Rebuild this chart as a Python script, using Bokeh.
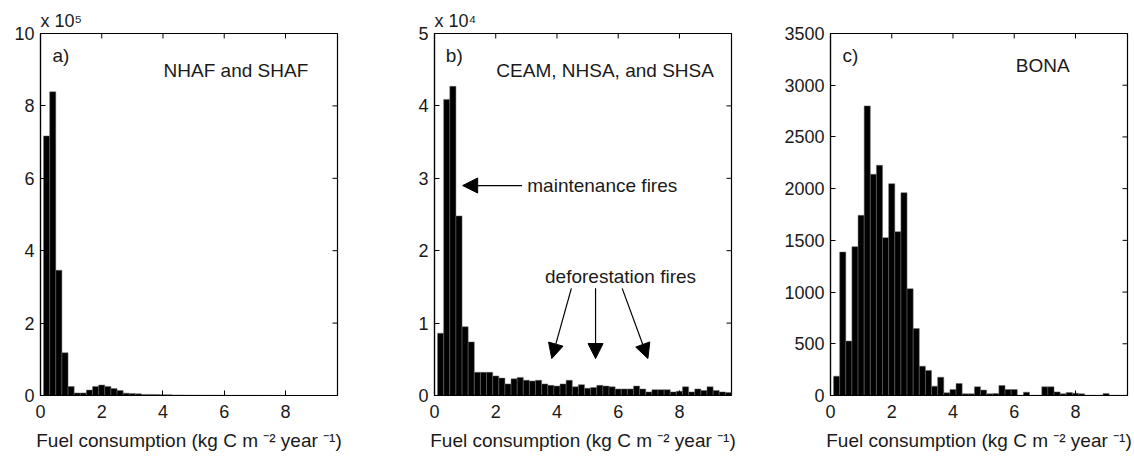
from bokeh.plotting import figure
from bokeh.layouts import row
from bokeh.models import (ColumnDataSource, Range1d, FixedTicker,
                          Label, Arrow, NormalHead)
from bokeh.embed import file_html
from bokeh.resources import INLINE

# ---------------- data ----------------
bin_centers = [0.2, 0.4, 0.6, 0.8, 1.0, 1.2, 1.4, 1.6, 1.8, 2.0, 2.2, 2.4,
               2.6, 2.8, 3.0, 3.2, 3.4, 3.6, 3.8, 4.0, 4.2, 4.4, 4.6, 4.8,
               5.0, 5.2, 5.4, 5.6, 5.8, 6.0, 6.2, 6.4, 6.6, 6.8, 7.0, 7.2,
               7.4, 7.6, 7.8, 8.0, 8.2, 8.4, 8.6, 8.8, 9.0, 9.2, 9.4, 9.6]
bin_width = 0.2

counts_africa = [717000, 839000, 346000, 118000, 25000, 7000, 7000, 15000,
                 25000, 29000, 25000, 19000, 14000, 6500, 5500, 4500,
                 3000, 3000, 2500, 2000, 2000, 1500, 1500, 1200,
                 1000, 1000, 900, 800, 800, 700, 600, 600,
                 500, 500, 500, 400, 400, 400, 300, 300,
                 300, 300, 200, 200, 200, 200, 200, 200]

counts_samerica = [8600, 40900, 42700, 24800, 9500, 7400, 3200, 3200,
                   3200, 2700, 2400, 1600, 2300, 2500, 2100, 2000,
                   2100, 1600, 1400, 1300, 1600, 2100, 1200, 1500,
                   1000, 1100, 1400, 1300, 1200, 900, 900, 900,
                   1300, 900, 500, 800, 800, 800, 500, 600,
                   1200, 500, 900, 700, 1200, 700, 500, 400]

counts_bona = [187, 1387, 526, 1439, 1742, 2800, 2139, 2226,
               1526, 2048, 1584, 1961, 1032, 648, 284, 242,
               90, 177, 26, 58, 116, 16, 16, 84,
               52, 16, 19, 97, 58, 58, 3, 32,
               3, 3, 84, 84, 35, 16, 29, 22,
               16, 3, 3, 3, 19, 3, 3, 3]

x_max = 9.7
x_ticks = [0, 2, 4, 6, 8]
yticks_a = [0, 200000, 400000, 600000, 800000, 1000000]
ylabels_a = ["0", "2", "4", "6", "8", "10"]
yticks_b = [0, 10000, 20000, 30000, 40000, 50000]
ylabels_b = ["0", "1", "2", "3", "4", "5"]
yticks_c = [0, 500, 1000, 1500, 2000, 2500, 3000, 3500]
ylabels_c = ["0", "500", "1000", "1500", "2000", "2500", "3000", "3500"]

xlabel = "Fuel consumption (kg C m \u207b\u00b2 year \u207b\u00b9)"

FONT = "Liberation Sans"
TXT = "#1a1a1a"
FRAME_W, FRAME_H, TICK = 297, 362, 5


def make_panel(counts, ymax, yticks, ylabels, border_left, border_right,
               title=""):
    p = figure(frame_width=FRAME_W, frame_height=FRAME_H,
               x_range=Range1d(0, x_max), y_range=Range1d(0, ymax),
               output_backend="svg", toolbar_location=None,
               min_border_left=border_left, min_border_right=border_right,
               min_border_top=33, min_border_bottom=74,
               background_fill_color="white", border_fill_color="white")
    src = ColumnDataSource(dict(x=bin_centers, top=counts))
    p.vbar(x="x", top="top", width=bin_width, source=src,
           fill_color="black", line_color="#6a6a6a", line_width=0.5)
    p.grid.visible = False
    p.outline_line_color = "black"
    p.outline_line_width = 1.2

    for ax in (p.xaxis[0], p.yaxis[0]):
        ax.major_tick_in = TICK
        ax.major_tick_out = 0
        ax.minor_tick_line_color = None
        ax.axis_line_color = "black"
        ax.axis_line_width = 1.2
        ax.major_tick_line_color = "black"
        ax.major_label_text_font = FONT
        ax.major_label_text_font_size = "18px"
        ax.major_label_text_color = TXT
    p.xaxis.ticker = FixedTicker(ticks=x_ticks)
    p.xaxis.major_label_standoff = 9
    p.xaxis.axis_label = xlabel
    p.xaxis.axis_label_text_font = FONT
    p.xaxis.axis_label_text_font_size = "19px"
    p.xaxis.axis_label_text_font_style = "normal"
    p.xaxis.axis_label_text_color = TXT
    p.xaxis.axis_label_standoff = 9

    p.yaxis.ticker = FixedTicker(ticks=yticks)
    p.yaxis.major_label_overrides = {t: l for t, l in zip(yticks, ylabels)}
    p.yaxis.major_label_standoff = 6

    # inward tick marks on the top and right edges of the box
    ty = ymax * TICK / FRAME_H
    tx = x_max * TICK / FRAME_W
    p.segment(x0=x_ticks, y0=[ymax] * len(x_ticks), x1=x_ticks,
              y1=[ymax - ty] * len(x_ticks), line_color="black", line_width=1)
    p.segment(x0=[x_max] * len(yticks), y0=yticks,
              x1=[x_max - tx] * len(yticks), y1=yticks,
              line_color="black", line_width=1)

    if title:
        p.title.text = title
        p.title.text_font = FONT
        p.title.text_font_size = "18px"
        p.title.text_font_style = "normal"
        p.title.text_color = TXT
        p.title.align = "left"
        p.title.standoff = 6
    return p


def label(p, x, y, text, size="19px", baseline="middle"):
    p.add_layout(Label(x=x, y=y, text=text, text_font=FONT,
                       text_font_size=size, text_color=TXT,
                       text_baseline=baseline, text_align="left"))


# Panel a
pa = make_panel(counts_africa, 1000000, yticks_a, ylabels_a, 40, 57,
                title="x 10\u2075")
label(pa, 0.39, 939000, "a)")
label(pa, 4.02, 898000, "NHAF and SHAF")

# Panel b
pb = make_panel(counts_samerica, 50000, yticks_b, ylabels_b, 40, 50,
                title="x 10\u2074")
label(pb, 0.37, 47000, "b)")
label(pb, 2.02, 44900, "CEAM, NHSA, and SHSA")
label(pb, 3.03, 29000, "maintenance fires")
label(pb, 3.61, 16400, "deforestation fires")


def arrow(p, x0, y0, x1, y1):
    p.add_layout(Arrow(end=NormalHead(size=15, fill_color="black",
                                      line_color="black", line_width=1),
                       x_start=x0, y_start=y0, x_end=x1, y_end=y1,
                       line_color="black", line_width=1.2))


arrow(pb, 2.86, 29000, 0.92, 29000)
arrow(pb, 4.47, 14800, 3.83, 5100)
arrow(pb, 5.26, 14800, 5.26, 5100)
arrow(pb, 6.13, 14800, 6.97, 5100)

# Panel c
pc = make_panel(counts_bona, 3500, yticks_c, ylabels_c, 46, 9)
label(pc, 0.39, 3288, "c)")
label(pc, 6.05, 3191, "BONA")

layout = row(pa, pb, pc)
open("out.html", "w").write(file_html(layout, INLINE))
